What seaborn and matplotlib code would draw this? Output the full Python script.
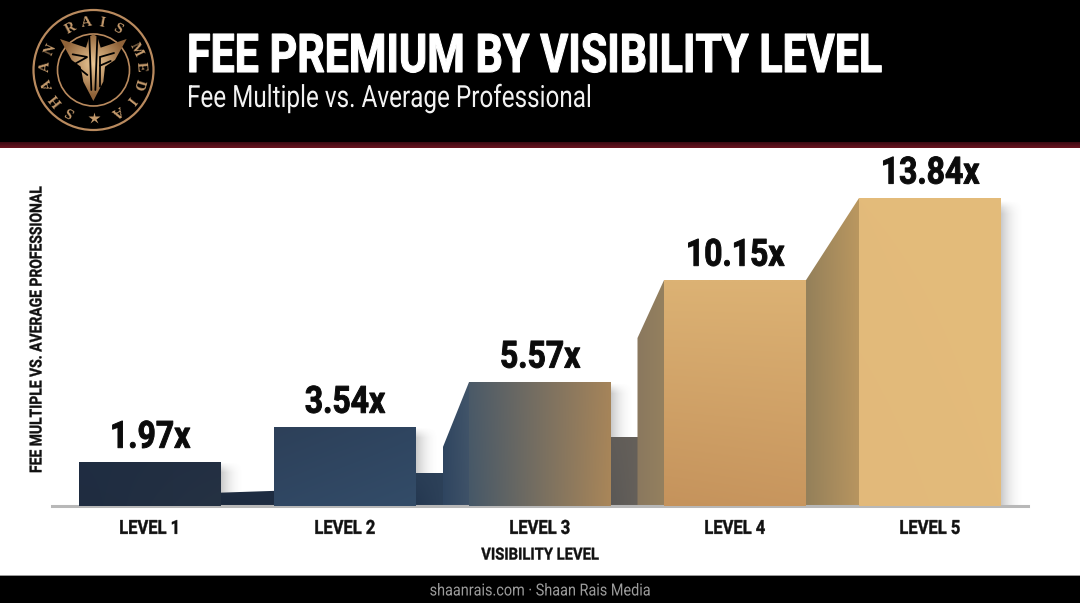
import numpy as np
import pandas as pd
import matplotlib
matplotlib.use("Agg")
import matplotlib.pyplot as plt
import seaborn as sns
from matplotlib.colors import to_rgb
from matplotlib.patches import Polygon, Circle
from matplotlib.patheffects import AbstractPathEffect
from matplotlib.transforms import Affine2D

levels = ['LEVEL 1', 'LEVEL 2', 'LEVEL 3', 'LEVEL 4', 'LEVEL 5']
multiples = [1.97, 3.54, 5.57, 10.15, 13.84]
value_labels = ['1.97x', '3.54x', '5.57x', '10.15x', '13.84x']

# heights of the 3d looking faces in the gaps between bars
step_heights = [None, 1.44, 3.1, None]
slope_low = [0.6, 2.6, 7.55, 10.15]
slope_high = [0.68, 5.57, 10.15, 13.84]

TITLE = 'FEE PREMIUM BY VISIBILITY LEVEL'
SUBTITLE = 'Fee Multiple vs. Average Professional'
FOOTER = 'shaanrais.com · Shaan Rais Media'
W = 0.728

sns.set_theme(style='white')
plt.rcParams['font.family'] = ['Roboto', 'DejaVu Sans']


# no condensed font here, so narrow the real text when it is drawn
class Squeeze(AbstractPathEffect):
    def __init__(self, sx, align='center', heavy=0):
        super().__init__()
        self.sx = sx
        self.align = align
        self.heavy = heavy

    def draw_path(self, renderer, gc, tpath, affine, rgbFace=None):
        off = 0
        if self.align == 'center':
            ext = tpath.get_extents()
            off = (1 - self.sx) * (ext.x0 + ext.x1) / 2
        gc0 = renderer.new_gc()
        gc0.copy_properties(gc)
        if self.heavy:
            gc0.set_linewidth(self.heavy)
            gc0.set_foreground(rgbFace)
        renderer.draw_path(gc0, tpath, Affine2D().scale(self.sx, 1).translate(off, 0) + affine, rgbFace)
        gc0.restore()


df = pd.DataFrame({'level': levels, 'multiple': multiples})

fig = plt.figure(figsize=(10.8, 6.03), dpi=100, facecolor='white')
bg = fig.add_axes([0, 0, 1, 1], zorder=0)
bg.set_xlim(0, 1080)
bg.set_ylim(603, 0)
bg.axis('off')

ax = fig.add_axes([52 / 1080, (603 - 506) / 603, 976 / 1080, 326 / 603], zorder=1)
ax.patch.set_alpha(0)
sns.barplot(data=df, x='level', y='multiple', width=W, color='#2f4562', ax=ax, saturation=1)
ax.set_xlim(-0.5026, 4.5026)
ax.set_ylim(0, 326 / 22.25)


def grad(tl, tr, bl, br, n=64):
    tl, tr, bl, br = [np.array(to_rgb(c)) for c in (tl, tr, bl, br)]
    u = np.linspace(0, 1, n)[None, :, None]
    v = np.linspace(0, 1, n)[:, None, None]
    return (1 - v) * ((1 - u) * tl + u * tr) + v * ((1 - u) * bl + u * br)


def fill(a, colors, x0, x1, y0, y1, clip=None, z=2):
    im = a.imshow(grad(*colors), extent=(x0, x1, y0, y1), origin='upper', aspect='auto',
                  interpolation='bilinear', zorder=z)
    if clip is not None:
        clip.set_transform(a.transData)
        im.set_clip_path(clip)
    return im


bar_colors = [
    ('#1f2d42', '#232f42', '#1f2c40', '#253243'),
    ('#2d4059', '#2f4560', '#304763', '#334c68'),
    ('#4b5a68', '#a5845a', '#465868', '#a98659'),
    ('#dcb274', '#dcb274', '#c5935c', '#c8965e'),
    ('#e3bb7a', '#e4bc7b', '#e2b97a', '#e3bb7a'),
]
slope_colors = [
    ('#1f2d42', '#1f2d42', '#1c2a3e', '#1f2d42'),
    ('#2f4560', '#43566a', '#2f4560', '#3f5268'),
    ('#8a785e', '#94805f', '#8a785e', '#94805f'),
    ('#94805a', '#bb9860', '#94805a', '#b89560'),
]
step_colors = [None,
               ('#2a3e56', '#2d4159', '#243750', '#2d4159'),
               ('#605c58', '#65605a', '#5a5856', '#65605a'),
               None]

for i, bar in enumerate(ax.patches):
    x0, x1 = bar.get_x(), bar.get_x() + bar.get_width()
    h = bar.get_height()
    bar.set_visible(False)
    # soft drop shadow on the right
    a = np.zeros((48, 48, 4))
    a[..., :3] = 0.5
    fade_x = (1 - np.linspace(0, 1, 48)) ** 2.2 * 0.42
    fade_y = np.clip(np.linspace(0, 1, 48) * h * 2.2, 0, 1)
    a[..., 3] = fade_x[None, :] * fade_y[:, None]
    ax.imshow(a, extent=(x1, x1 + 0.12, 0, h), origin='upper', aspect='auto',
              interpolation='bilinear', zorder=1)
    fill(ax, bar_colors[i], x0, x1, 0, h, z=3)
    ax.text(i, h + 0.65, value_labels[i], ha='center', va='baseline', fontsize=27,
            fontweight='bold', color='#0b0b0b', zorder=5, path_effects=[Squeeze(0.85, heavy=0.7)])

for i in range(4):
    gx0 = i + W / 2
    gx1 = i + 1 - W / 2
    if step_heights[i] is None:
        sx = gx0
    else:
        sx = (gx0 + gx1) / 2
        fill(ax, step_colors[i], gx0, sx, 0, step_heights[i], z=2)
    poly = Polygon([(sx, 0), (sx, slope_low[i]), (gx1, slope_high[i]), (gx1, 0)], closed=True,
                   fc='none', ec='none')
    ax.add_patch(poly)
    fill(ax, slope_colors[i], sx, gx1, 0, slope_high[i], clip=poly, z=2)

ax.set_xlim(-0.5026, 4.5026)
ax.set_ylim(0, 326 / 22.25)

sns.despine(ax=ax, left=True)
ax.spines['bottom'].set_color('#b8b8b8')
ax.spines['bottom'].set_linewidth(2.2)
ax.set_yticks([])
ax.tick_params(axis='x', length=0, pad=10)
for t in ax.get_xticklabels():
    t.set_fontsize(14)
    t.set_fontweight('bold')
    t.set_color('#111111')
    t.set_path_effects([Squeeze(0.85, heavy=0.3)])
ax.set_xlabel('VISIBILITY LEVEL', fontsize=12, fontweight='bold', color='#111111', labelpad=7,
              path_effects=[Squeeze(0.887, heavy=0.25)])
ax.set_ylabel('')
bg.text(37, 330, 'FEE MULTIPLE VS. AVERAGE PROFESSIONAL', rotation=90, ha='center', va='center',
        fontsize=12, fontweight='bold', color='#111111', path_effects=[Squeeze(0.834, heavy=0.25)])

# header + footer bands
bg.axhspan(0, 142, color='black', lw=0)
bg.imshow(grad('#3a0a12', '#3a0a12', '#6a1420', '#6a1420'), extent=(0, 1080, 148, 142),
          aspect='auto', interpolation='bilinear')
bg.axhspan(575, 576, color='#9a9a9a', lw=0)
bg.axhspan(576, 603, color='black', lw=0)
bg.set_xlim(0, 1080)
bg.set_ylim(603, 0)

bg.text(187, 72, TITLE, color='white', fontsize=38.5, fontweight='bold', va='baseline', ha='left',
        path_effects=[Squeeze(0.803, 'left', heavy=0.8)])
bg.text(187, 107, SUBTITLE, color='#f2f2f2', fontsize=22, va='baseline', ha='left',
        path_effects=[Squeeze(0.794, 'left')])
bg.text(540, 591, FOOTER, color='#9c9c9c', fontsize=12, va='center', ha='center',
        path_effects=[Squeeze(0.867)])

# logo
cx, cy = 93.5, 70
gold = '#b98a5e'
bg.add_patch(Circle((cx, cy), 60, fc='none', ec=gold, lw=1.6))
bg.add_patch(Circle((cx, cy), 36, fc='none', ec=gold, lw=1.2))
letters = list('SHAAN') + list('RAIS') + list('MEDIA')
angles = list(np.linspace(-150, -65, 5)) + list(np.linspace(-28, 30, 4)) + list(np.linspace(64, 150, 5))
for ch, ang in zip(letters, angles):
    r = np.radians(ang)
    px, py = cx + 47.5 * np.sin(r), cy - 47.5 * np.cos(r)
    bg.text(px, py, ch, rotation=-ang, rotation_mode='anchor', ha='center', va='center',
            fontsize=10.5, fontweight='bold', color='#c49a6c',
            family=['Liberation Serif', 'DejaVu Serif'])
bg.plot([cx], [117.5], marker='*', ms=9, color='#c49a6c', mec='none')


def logo_xy(pts):
    return [(50 + x / 3, 25 + y / 3) for x, y in pts]


emblem = Polygon(logo_xy([(30, 42), (108, 68), (118, 35), (130, 28), (142, 35), (152, 68), (230, 42),
                          (195, 105), (165, 125), (160, 170), (130, 228), (100, 170), (92, 125),
                          (65, 105)]), closed=True, fc='none', ec='none')
bg.add_patch(emblem)
ex = np.linspace(-1, 1, 64)
ed = np.clip(np.hypot(ex[None, :], (ex[:, None] + 0.15) * 1.1), 0, 1)[..., None]
light, dark = np.array(to_rgb('#ecc896')), np.array(to_rgb('#8f6238'))
emblem_im = bg.imshow((1 - ed) * light + ed * dark, extent=(60, 127, 104, 34),
                      aspect='auto', zorder=3, interpolation='bilinear')
emblem_im.set_clip_path(emblem)
for stroke in [[(118, 35), (124, 195)], [(142, 35), (136, 195)],
               [(68, 88), (112, 96), (72, 118), (112, 150)],
               [(192, 84), (150, 96), (150, 185)], [(182, 108), (150, 122)]]:
    xs, ys = zip(*logo_xy(stroke))
    bg.plot(xs, ys, color='black', lw=1.3, zorder=4, solid_joinstyle='miter')
bg.set_xlim(0, 1080)
bg.set_ylim(603, 0)

fig.savefig('out.png', dpi=100, facecolor='white')
